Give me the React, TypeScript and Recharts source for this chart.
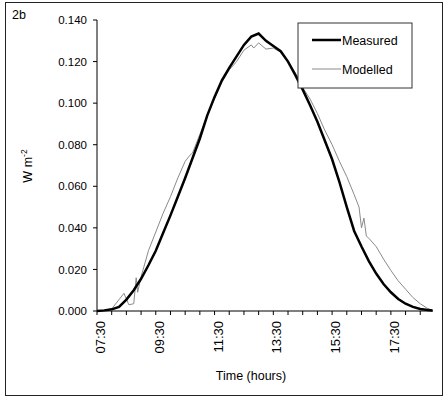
import { Label, Line, LineChart, XAxis, YAxis } from 'recharts'

// measured irradiance, 15 min readings
const measuredTimes = [
  '07:30', '07:45', '08:00', '08:15', '08:30', '08:45', '09:00', '09:15', '09:30', '09:45',
  '10:00', '10:15', '10:30', '10:45', '11:00', '11:15', '11:30', '11:45', '12:00', '12:15',
  '12:30', '12:45', '13:00', '13:15', '13:30', '13:45', '14:00', '14:15', '14:30', '14:45',
  '15:00', '15:15', '15:30', '15:45', '16:00', '16:15', '16:30', '16:45', '17:00', '17:15',
  '17:30', '17:45', '18:00', '18:15', '18:30', '18:45', '18:55',
]
const measuredValues = [
  0.0, 0.0003, 0.0008, 0.002, 0.0055, 0.01, 0.0155, 0.022, 0.029, 0.0375,
  0.046, 0.055, 0.064, 0.0735, 0.083, 0.094, 0.103, 0.111, 0.117, 0.1225,
  0.128, 0.132, 0.1335, 0.13, 0.1275, 0.125, 0.12, 0.1135, 0.1065, 0.099,
  0.091, 0.082, 0.073, 0.062, 0.05, 0.0385, 0.031, 0.024, 0.018, 0.013,
  0.009, 0.0058, 0.0035, 0.002, 0.001, 0.0005, 0.0002,
]

const modelledTimes = [
  '07:30', '07:45', '08:00', '08:15', '08:25', '08:35', '08:45', '08:50', '08:53', '09:00',
  '09:15', '09:30', '09:45', '10:00', '10:15', '10:30', '10:40', '10:45', '11:00', '11:15',
  '11:30', '11:45', '12:00', '12:15', '12:30', '12:45', '12:50', '13:00', '13:15', '13:30',
  '13:45', '14:00', '14:15', '14:30', '14:45', '15:00', '15:15', '15:30', '15:45', '16:00',
  '16:15', '16:25', '16:30', '16:35', '16:40', '16:45', '17:00', '17:15', '17:30', '17:45',
  '18:00', '18:15', '18:30', '18:45', '18:55',
]
const modelledValues = [
  0.0, 0.0003, 0.001, 0.0055, 0.0085, 0.003, 0.0035, 0.016, 0.009, 0.0165,
  0.029, 0.038, 0.047, 0.055, 0.064, 0.072, 0.075, 0.076, 0.085, 0.094,
  0.102, 0.11, 0.116, 0.12, 0.1255, 0.128, 0.1265, 0.129, 0.126, 0.1265,
  0.1245, 0.12, 0.1145, 0.1075, 0.102, 0.095, 0.087, 0.08, 0.072, 0.0646,
  0.056, 0.05, 0.04, 0.0447, 0.036, 0.035, 0.031, 0.025, 0.0195, 0.0145,
  0.0105, 0.0065, 0.0035, 0.0012, 0.0003,
]

const xTickTimes = [
  '07:30', '08:00', '08:30', '09:00', '09:30', '10:00', '10:30', '11:00', '11:30', '12:00',
  '12:30', '13:00', '13:30', '14:00', '14:30', '15:00', '15:30', '16:00', '16:30', '17:00',
  '17:30', '18:00', '18:30',
]
const xLabelTimes = ['07:30', '09:30', '11:30', '13:30', '15:30', '17:30']
const yTicks = [0, 0.02, 0.04, 0.06, 0.08, 0.1, 0.12, 0.14]

const toMin = (s: string) => {
  const [h, m] = s.split(':').map(Number)
  return h * 60 + m
}
const toLabel = (v: number) => {
  const h = Math.floor(v / 60)
  const m = v % 60
  return `${String(h).padStart(2, '0')}:${String(m).padStart(2, '0')}`
}

const rows = (() => {
  const map = new Map<number, { t: number; measured?: number; modelled?: number }>()
  measuredTimes.forEach((s, i) => {
    const t = toMin(s)
    map.set(t, { ...(map.get(t) || { t }), measured: measuredValues[i] })
  })
  modelledTimes.forEach((s, i) => {
    const t = toMin(s)
    map.set(t, { ...(map.get(t) || { t }), modelled: modelledValues[i] })
  })
  return Array.from(map.values()).sort((a, b) => a.t - b.t)
})()

const X_DOMAIN: [number, number] = [450, 1136]

function XTick(props: any) {
  const { x, y, payload } = props
  const label = toLabel(payload.value)
  if (!xLabelTimes.includes(label)) return null
  const ax = x + 8
  const ay = y + 4
  return (
    <text x={ax} y={ay} transform={`rotate(-90 ${ax} ${ay})`} textAnchor="end" fontSize={13} fill="#000">
      {label}
    </text>
  )
}

function YTitle() {
  return (
    <text x={32} y={166} transform="rotate(-90 32 166)" textAnchor="middle" fontSize={12.5} fill="#000">
      W m<tspan dy={-5} fontSize={8.5}>-2</tspan>
    </text>
  )
}

export default function App() {
  return (
    <div
      style={{
        position: 'absolute',
        left: 0,
        top: 0,
        width: 448,
        height: 398,
        background: '#fff',
        fontFamily: '"Liberation Sans", Arial, sans-serif',
      }}
    >
      <div
        style={{
          position: 'absolute',
          left: 5,
          top: 2,
          width: 436,
          height: 392,
          border: '1.5px solid #222',
        }}
      />
      <div style={{ position: 'absolute', left: 12, top: 8, fontSize: 12.5, color: '#000' }}>2b</div>
      <LineChart
        width={448}
        height={398}
        data={rows}
        margin={{ top: 20, right: 15, bottom: 0, left: 0 }}
        style={{ position: 'absolute', left: 0, top: 0 }}
      >
        <XAxis
          xAxisId="b"
          dataKey="t"
          type="number"
          domain={X_DOMAIN}
          allowDataOverflow
          ticks={xTickTimes.map(toMin)}
          interval={0}
          tick={<XTick />}
          tickSize={4}
          height={87}
          stroke="#000"
        >
          <Label value="Time (hours)" position="insideBottom" offset={18} dx={-14} fontSize={12.5} fill="#000" />
        </XAxis>
        <XAxis
          xAxisId="top"
          orientation="top"
          dataKey="t"
          type="number"
          domain={X_DOMAIN}
          allowDataOverflow
          tick={false}
          tickLine={false}
          height={0}
          stroke="#000"
        />
        <YAxis
          yAxisId="l"
          domain={[0, 0.14]}
          ticks={yTicks}
          interval={0}
          tickFormatter={(v: number) => v.toFixed(3)}
          width={97}
          tickSize={4}
          tickMargin={6}
          stroke="#000"
          tick={{ fill: '#000', fontSize: 11.5 }}
          label={<YTitle />}
        />
        <YAxis
          yAxisId="r"
          orientation="right"
          domain={[0, 0.14]}
          tick={false}
          tickLine={false}
          width={0}
          stroke="#000"
        />
        <Line
          xAxisId="b"
          yAxisId="l"
          dataKey="modelled"
          type="linear"
          stroke="#8a8a8a"
          strokeWidth={1}
          dot={false}
          connectNulls
          isAnimationActive={false}
        />
        <Line
          xAxisId="b"
          yAxisId="l"
          dataKey="measured"
          type="linear"
          stroke="#000"
          strokeWidth={2.5}
          dot={false}
          connectNulls
          isAnimationActive={false}
        />
      </LineChart>
      <svg width={116} height={67} style={{ position: 'absolute', left: 297, top: 22 }}>
        <rect x={1} y={1} width={114} height={65} fill="#fff" stroke="#333" strokeWidth={1} />
        <line x1={15} y1={18} x2={44} y2={18} stroke="#000" strokeWidth={2.5} />
        <text x={45} y={22.5} fontSize={12.5} fill="#000">Measured</text>
        <line x1={15} y1={47} x2={44} y2={47} stroke="#8a8a8a" strokeWidth={1} />
        <text x={45} y={51.5} fontSize={12.5} fill="#000">Modelled</text>
      </svg>
    </div>
  )
}
